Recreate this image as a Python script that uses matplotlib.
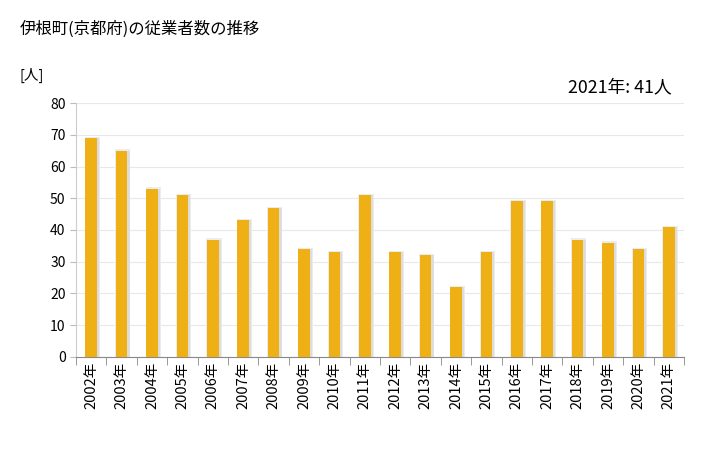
import matplotlib
matplotlib.use("Agg")
import matplotlib.pyplot as plt
import numpy as np

plt.rcParams['font.family'] = ['Noto Sans CJK JP', 'DejaVu Sans']

years = [str(y) + "年" for y in range(2002, 2022)]
values = [69, 65, 53, 51, 37, 43, 47, 34, 33, 51, 33, 32, 22, 33, 49, 49, 37, 36, 34, 41]

fig = plt.figure(figsize=(7.28, 4.5), dpi=100)
ax = fig.add_axes([0.1044, 0.2067, 0.8352, 0.5644])

x = np.arange(len(values))
# soft shadow behind each bar
ax.bar(x + 0.04, np.array(values) + 0.4, width=0.5, color='#ececec', zorder=2)
ax.bar(x + 0.04, values, width=0.44, color='#dddddd', zorder=2)
ax.bar(x, values, width=0.38, color='#efb016', zorder=3)

ax.set_xlim(-0.5, len(values) - 0.5)
ax.set_ylim(0, 80)
ax.set_yticks(range(0, 81, 10))
ax.set_xticks(x)
ax.set_xticklabels(years, rotation=90, fontsize=10.5)
ax.tick_params(axis='y', labelsize=10, length=4, color='#bbbbbb')
ax.set_xticks(np.arange(-0.5, len(values), 1), minor=True)
ax.tick_params(axis='x', which='major', length=0)
ax.tick_params(axis='x', which='minor', length=6, color='#888888')

ax.grid(axis='y', color='#e8e8e8', linewidth=0.8, zorder=0)
for s in ['top', 'right']:
    ax.spines[s].set_visible(False)
ax.spines['left'].set_color('#cccccc')
ax.spines['bottom'].set_color('#888888')

fig.text(0.027, 0.935, "伊根町(京都府)の従業者数の推移", fontsize=11.8, va='center')
fig.text(0.027, 0.833, "[人]", fontsize=10.5, va='center')
fig.text(0.922, 0.806, "2021年: 41人", fontsize=12.8, va='center', ha='right')

fig.savefig("out.png", dpi=100)
